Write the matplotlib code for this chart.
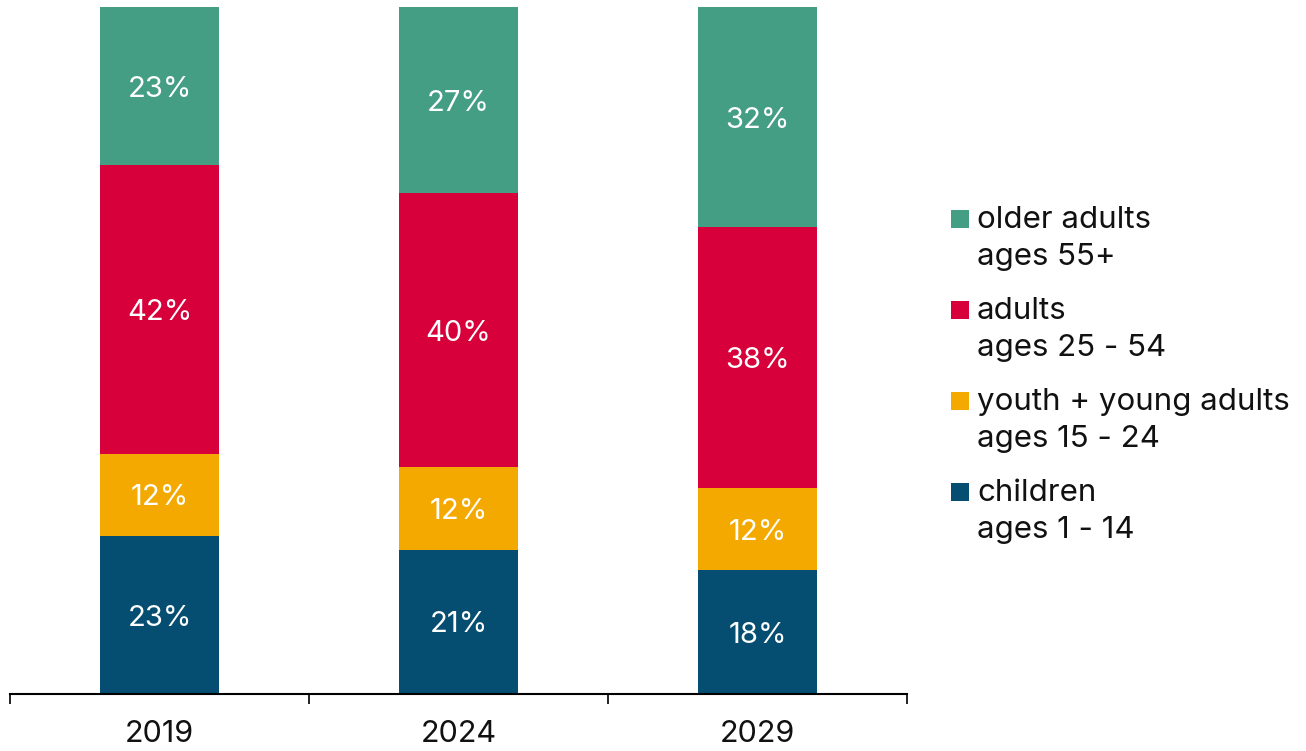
import numpy as np
import matplotlib
matplotlib.use("Agg")
import matplotlib.pyplot as plt
from matplotlib.patches import Rectangle

# Population share by age group (percent)
years = ["2019", "2024", "2029"]
children = [23, 21, 18]
youth = [12, 12, 12]
adults = [42, 40, 38]
older = [23, 27, 32]

series = [
    (children, "#054E71", "children", "ages 1 - 14"),
    (youth, "#F4A900", "youth + young adults", "ages 15 - 24"),
    (adults, "#D7003A", "adults", "ages 25 - 54"),
    (older, "#449E84", "older adults", "ages 55+"),
]

plt.rcParams["font.family"] = ["Inter", "DejaVu Sans"]

W, H = 1306, 751
fig = plt.figure(figsize=(W / 100, H / 100), dpi=100)
ax = fig.add_axes([10 / W, (H - 694) / H, 897 / W, 686.5 / H])

x = np.arange(len(years))
bottom = np.zeros(len(years))
for vals, color, _, _ in series:
    vals = np.array(vals, dtype=float)
    ax.bar(x, vals, width=0.40, bottom=bottom, color=color, linewidth=0, zorder=2)
    for xi, b, v in zip(x, bottom, vals):
        ax.text(xi, b + v / 2, f"{v:.0f}%", ha="center", va="center_baseline",
                color="white", fontsize=21, fontweight="normal", zorder=3)
    bottom += vals

ax.set_xlim(-0.5, len(years) - 0.5)
ax.set_ylim(0, 100)
for s in ["left", "right", "top"]:
    ax.spines[s].set_visible(False)
ax.spines["bottom"].set_linewidth(1.5)
ax.spines["bottom"].set_zorder(4)
ax.set_yticks([])

ax.set_xticks(x)
ax.set_xticklabels(years, fontsize=22)
ax.set_xticks(np.arange(len(years) + 1) - 0.5, minor=True)
ax.tick_params(axis="x", which="major", length=0, pad=19, colors="#111111")
ax.tick_params(axis="x", which="minor", length=7.5, width=1.3, direction="out", color="#111111")

# legend, drawn top-down from older adults to children
sq = 18
for i, (_, color, name, ages) in enumerate(reversed(series)):
    yb = 228 + i * 91  # baseline of the first line, in pixels from top
    fig.add_artist(Rectangle((951 / W, (H - yb) / H), sq / W, sq / H,
                             transform=fig.transFigure, color=color, linewidth=0))
    fig.text(977 / W, (H - yb) / H, name, fontsize=22.5, color="#111111", va="baseline", ha="left")
    fig.text(977 / W, (H - yb - 37) / H, ages, fontsize=22.5, color="#111111", va="baseline", ha="left")

fig.savefig("out.png", dpi=100, facecolor="white")
